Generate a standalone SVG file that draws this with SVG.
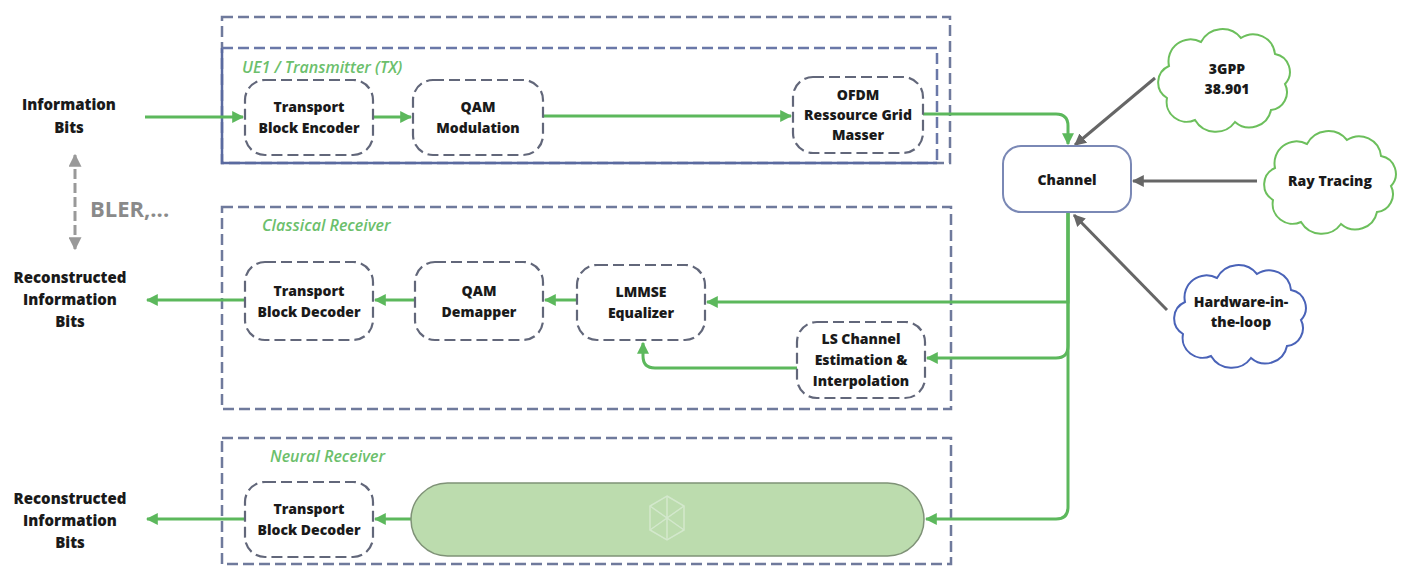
<svg xmlns="http://www.w3.org/2000/svg" width="1410" height="566" viewBox="0 0 1410 566">
<defs>
<style>
.lbl{font-family:"Open Sans","Liberation Sans",sans-serif;font-weight:800;font-size:14px;fill:#1a1a1a;text-anchor:middle}
.side{font-family:"Open Sans","Liberation Sans",sans-serif;font-weight:800;font-size:15px;fill:#1a1a1a;text-anchor:middle}
.ttl{font-family:"Open Sans","Liberation Sans",sans-serif;font-weight:600;font-style:italic;font-size:16px;fill:#6cbf6c}
.grp{fill:none;stroke:#6f7a9c;stroke-width:2.5;stroke-dasharray:11 5}
.node{fill:#fff;stroke:#62677a;stroke-width:2.2;stroke-dasharray:11 5}
.g{fill:none;stroke:#5cb85c;stroke-width:3}
.k{fill:none;stroke:#666;stroke-width:3}
</style>
<marker id="ag" viewBox="0 0 10 10" refX="9" refY="5" markerWidth="12" markerHeight="12" markerUnits="userSpaceOnUse" orient="auto"><path d="M0,0 L10,5 L0,10 Z" fill="#5cb85c"/></marker>
<marker id="ak" viewBox="0 0 10 10" refX="9" refY="5" markerWidth="12" markerHeight="12" markerUnits="userSpaceOnUse" orient="auto"><path d="M0,0 L10,5 L0,10 Z" fill="#666"/></marker>
<marker id="ab" viewBox="0 0 10 10" refX="9" refY="5" markerWidth="13" markerHeight="13" markerUnits="userSpaceOnUse" orient="auto-start-reverse"><path d="M0,0 L10,5 L0,10 Z" fill="#999"/></marker>
<path id="cloud" d="M20,70 A18,18 0 0 1 22,38 A22,22 0 0 1 54,14 A24,24 0 0 1 94,10 A22,22 0 0 1 128,26 A18,18 0 0 1 138,56 A18,18 0 0 1 124,82 A22,22 0 0 1 88,94 A24,24 0 0 1 48,92 A20,20 0 0 1 20,70 Z"/>
</defs>
<rect width="1410" height="566" fill="#fff"/>

<g id="tx-group">
<rect class="grp" x="222" y="17" width="728" height="146"/>
<path d="M222,48 V163 H937" fill="none" stroke="#5a6aa0" stroke-width="2.5"/>
<path d="M222,48 H937 V163" fill="none" stroke="#6a78a8" stroke-width="2.5" stroke-dasharray="11 5"/>
<text class="ttl" x="242" y="73">UE1 / Transmitter (TX)</text>
</g>
<g id="classical-group">
<rect class="grp" x="222" y="207" width="729" height="202"/>
<text class="ttl" x="262" y="231">Classical Receiver</text>
</g>
<g id="neural-group">
<rect class="grp" x="222" y="438" width="729" height="126"/>
<text class="ttl" x="270" y="462">Neural Receiver</text>
</g>

<g id="connectors">
<path class="g" d="M145,117 H243" marker-end="url(#ag)"/>
<path class="g" d="M373,117 H411" marker-end="url(#ag)"/>
<path class="g" d="M543,116 H791" marker-end="url(#ag)"/>
<path class="g" d="M923,114 H1056 Q1068,114 1068,126 V144" marker-end="url(#ag)"/>
<path class="g" d="M1068,212 V302 H707" marker-end="url(#ag)"/>
<path class="g" d="M1068,212 V346 Q1068,358 1056,358 H927" marker-end="url(#ag)"/>
<path class="g" d="M1068,212 V507 Q1068,519 1056,519 H926" marker-end="url(#ag)"/>
<path class="g" d="M577,300 H545" marker-end="url(#ag)"/>
<path class="g" d="M415,300 H375" marker-end="url(#ag)"/>
<path class="g" d="M245,300 H147" marker-end="url(#ag)"/>
<path class="g" d="M797,368 H655 Q643,368 643,356 V343" marker-end="url(#ag)"/>
<path class="g" d="M411,519 H375" marker-end="url(#ag)"/>
<path class="g" d="M245,519 H147" marker-end="url(#ag)"/>
<path class="k" d="M1155,78 L1075,145" marker-end="url(#ak)"/>
<path class="k" d="M1257,181 H1133" marker-end="url(#ak)"/>
<path class="k" d="M1167,310 L1074,215" marker-end="url(#ak)"/>
<path d="M75,155 V249" fill="none" stroke="#999" stroke-width="3" stroke-dasharray="10 4" marker-start="url(#ab)" marker-end="url(#ab)"/>
</g>

<g id="info-bits">
<text class="side" x="69" y="110">Information</text>
<text class="side" x="69" y="133">Bits</text>
</g>
<g id="bler">
<text x="90" y="217" font-family="Open Sans, Liberation Sans, sans-serif" font-weight="700" font-size="22" fill="#8a8a8a">BLER,...</text>
</g>
<g id="recon-classical">
<text class="side" x="70" y="283">Reconstructed</text>
<text class="side" x="70" y="305">Information</text>
<text class="side" x="70" y="327">Bits</text>
</g>
<g id="recon-neural">
<text class="side" x="70" y="504">Reconstructed</text>
<text class="side" x="70" y="526">Information</text>
<text class="side" x="70" y="548">Bits</text>
</g>

<g id="tb-encoder">
<rect class="node" x="245" y="80" width="128" height="75" rx="20"/>
<text class="lbl" x="309" y="112">Transport</text>
<text class="lbl" x="309" y="133">Block Encoder</text>
</g>
<g id="qam-mod">
<rect class="node" x="413" y="80" width="130" height="75" rx="20"/>
<text class="lbl" x="478" y="112">QAM</text>
<text class="lbl" x="478" y="133">Modulation</text>
</g>
<g id="ofdm">
<rect class="node" x="793" y="77" width="130" height="76" rx="20"/>
<text class="lbl" x="858" y="100">OFDM</text>
<text class="lbl" x="858" y="120">Ressource Grid</text>
<text class="lbl" x="858" y="140">Masser</text>
</g>
<g id="channel">
<rect x="1003" y="146" width="128" height="66" rx="18" fill="#fff" stroke="#7a88b5" stroke-width="2"/>
<text class="lbl" x="1067" y="185" font-size="13">Channel</text>
</g>
<g id="cloud-3gpp">
<use href="#cloud" transform="translate(1147,28)" fill="#fff" stroke="#6cbf5c" stroke-width="2"/>
<text class="lbl" x="1227" y="74">3GPP</text>
<text class="lbl" x="1227" y="94">38.901</text>
</g>
<g id="cloud-ray">
<use href="#cloud" transform="translate(1253,130)" fill="#fff" stroke="#6cbf5c" stroke-width="2"/>
<text class="lbl" x="1330" y="186">Ray Tracing</text>
</g>
<g id="cloud-hil">
<use href="#cloud" transform="translate(1163,264)" fill="#fff" stroke="#4a63b8" stroke-width="2"/>
<text class="lbl" x="1241" y="307">Hardware-in-</text>
<text class="lbl" x="1241" y="327">the-loop</text>
</g>

<g id="tb-decoder-classical">
<rect class="node" x="245" y="262" width="128" height="78" rx="20"/>
<text class="lbl" x="309" y="296">Transport</text>
<text class="lbl" x="309" y="317">Block Decoder</text>
</g>
<g id="qam-demapper">
<rect class="node" x="415" y="262" width="128" height="78" rx="20"/>
<text class="lbl" x="479" y="296">QAM</text>
<text class="lbl" x="479" y="317">Demapper</text>
</g>
<g id="lmmse">
<rect class="node" x="577" y="265" width="128" height="75" rx="20"/>
<text class="lbl" x="641" y="297">LMMSE</text>
<text class="lbl" x="641" y="318">Equalizer</text>
</g>
<g id="ls-est">
<rect class="node" x="797" y="322" width="128" height="76" rx="20"/>
<text class="lbl" x="861" y="344">LS Channel</text>
<text class="lbl" x="861" y="365">Estimation &amp;</text>
<text class="lbl" x="861" y="386">Interpolation</text>
</g>

<g id="tb-decoder-neural">
<rect class="node" x="245" y="482" width="128" height="75" rx="20"/>
<text class="lbl" x="309" y="514">Transport</text>
<text class="lbl" x="309" y="535">Block Decoder</text>
</g>
<g id="neural-pill">
<rect x="411" y="483" width="513" height="73" rx="36.5" fill="#bcdcae" stroke="#7f9277" stroke-width="1.5"/>
<g fill="none" stroke="#d6ead0" stroke-width="1.5" opacity="0.9">
<path d="M667,496 L684,506 L684,530 L667,540 L650,530 L650,506 Z"/>
<path d="M667,496 L667,540 M650,506 L684,530 M684,506 L650,530"/>
</g>
</g>
</svg>
